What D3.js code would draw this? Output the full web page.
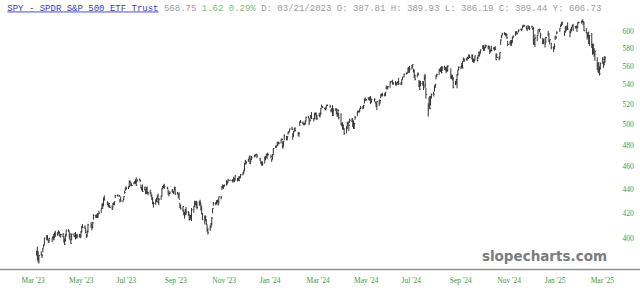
<!DOCTYPE html>
<html><head><meta charset="utf-8">
<script src="https://cdnjs.cloudflare.com/ajax/libs/d3/7.8.5/d3.min.js"></script>
<style>
html,body{margin:0;padding:0;background:#fff;overflow:hidden}
svg{display:block}
</style></head><body>
<svg id="c" width="640" height="297"></svg>
<script>
// ---- categories: trading days, grouped by month ----
const months = ["2023-03","2023-04","2023-05","2023-06","2023-07","2023-08","2023-09","2023-10","2023-11","2023-12",
"2024-01","2024-02","2024-03","2024-04","2024-05","2024-06","2024-07","2024-08","2024-09","2024-10","2024-11","2024-12",
"2025-01","2025-02","2025-03"];
const monthDays = [
[21,22,23,24,27,28,29,30,31],
[3,4,5,6,10,11,12,13,14,17,18,19,20,21,24,25,26,27,28],
[1,2,3,4,5,8,9,10,11,12,15,16,17,18,19,22,23,24,25,26,30,31],
[1,2,5,6,7,8,9,12,13,14,15,16,20,21,22,23,26,27,28,29,30],
[3,5,6,7,10,11,12,13,14,17,18,19,20,21,24,25,26,27,28,31],
[1,2,3,4,7,8,9,10,11,14,15,16,17,18,21,22,23,24,25,28,29,30,31],
[1,5,6,7,8,11,12,13,14,15,18,19,20,21,22,25,26,27,28,29],
[2,3,4,5,6,9,10,11,12,13,16,17,18,19,20,23,24,25,26,27,30,31],
[1,2,3,6,7,8,9,10,13,14,15,16,17,20,21,22,24,27,28,29,30],
[1,4,5,6,7,8,11,12,13,14,15,18,19,20,21,22,26,27,28,29],
[2,3,4,5,8,9,10,11,12,16,17,18,19,22,23,24,25,26,29,30,31],
[1,2,5,6,7,8,9,12,13,14,15,16,20,21,22,23,26,27,28,29],
[1,4,5,6,7,8,11,12,13,14,15,18,19,20,21,22,25,26,27,28],
[1,2,3,4,5,8,9,10,11,12,15,16,17,18,19,22,23,24,25,26,29,30],
[1,2,3,6,7,8,9,10,13,14,15,16,17,20,21,22,23,24,28,29,30,31],
[3,4,5,6,7,10,11,12,13,14,17,18,20,21,24,25,26,27,28],
[1,2,3,5,8,9,10,11,12,15,16,17,18,19,22,23,24,25,26,29,30,31],
[1,2,5,6,7,8,9,12,13,14,15,16,19,20,21,22,23,26,27,28,29,30],
[3,4,5,6,9,10,11,12,13,16,17,18,19,20,23,24,25,26,27,30],
[1,2,3,4,7,8,9,10,11,14,15,16,17,18,21,22,23,24,25,28,29,30,31],
[1,4,5,6,7,8,11,12,13,14,15,18,19,20,21,22,25,26,27,29],
[2,3,4,5,6,9,10,11,12,13,16,17,18,19,20,23,24,26,27,30,31],
[2,3,6,7,8,10,13,14,15,16,17,21,22,23,24,27,28,29,30,31],
[3,4,5,6,7,10,11,12,13,14,18,19,20,21,24,25,26,27,28],
[3,4,5,6,7,10,11,12,13,14,17,18,19,20]
];

// ---- series values (price, adjusted) ----
const high = [
389.9,393.0,389.8,386.6,389.5,387.1,392.0,394.8,400.0,
402,402,398.5,399.6,400,401.5,403,404,405.5,404.2,406,404.8,403.5,402.8,403.5,401.5,399.5,402.8,406.2,
406.7,405,403.7,398.3,403.2,403.3,402,404.4,402.2,403,403,402.7,405.3,409.1,410.7,409.7,407.7,402.8,405.8,411,412.4,409.5,
412.6,418.9,418.5,418.6,419.8,419.3,421.7,423.6,427.5,428.3,432.8,434.6,429.6,428.3,427.9,426.4,425.9,428.1,428.7,429.5,435.0,
435.2,435.0,431.3,433.7,431.0,433.7,438.6,441.4,442.4,442.4,447.3,447.5,446.0,445.0,445.9,447.0,448.6,450.2,448.2,449.0,
448.2,443.9,441.6,443.9,442.0,440.0,441.6,442.3,437.8,439.1,437.3,435.3,433.0,429.2,431.1,432.4,434.4,436.1,432.2,434.4,440.6,442.7,443.7,
444.6,442.1,439.5,436.7,438.1,439.5,439.0,438.4,442.1,441.8,437.6,436.0,437.3,428.3,426.9,425.2,422.7,420.6,423.2,424.8,
421.5,419.4,418.4,418.4,424.0,425.8,430.0,429.4,430.1,429.3,429.9,430.9,428.0,425.7,419.5,417.8,417.8,414.9,410.4,407.8,409.8,411.6,
416.5,423.8,429.1,428.7,430.4,430.6,431.2,433.6,434.0,442.7,444.0,443.2,444.0,447.5,446.8,448.9,448.0,448.0,448.8,450.7,449.3,
452.0,449.7,450.0,451.4,451.2,453.1,454.6,456.5,463.0,465.9,464.8,466.9,469.0,470.0,467.0,469.5,470.6,470.7,471.6,471.0,
467.8,465.3,464.5,464.5,468.9,469.0,471.4,472.1,472.6,470.6,466.9,471.1,476.7,479.1,479.0,482.7,482.2,483.0,485.1,485.9,483.0,
483.3,489.9,488.2,488.1,492.3,492.5,495.3,497.2,490.9,493.1,495.9,496.6,492.2,491.2,502.4,503.7,502.4,500.9,500.6,503.3,
506.9,507.8,505.3,505.7,508.6,511.7,505.6,510.9,510.9,511.4,508.7,510.6,511.1,515.7,519.1,517.6,516.0,516.4,518.2,519.6,
519.0,514.1,515.5,518.6,515.5,515.3,515.3,511.3,514.6,510.9,510.4,501.3,501.4,499.3,495.7,497.6,501.7,502.6,499.2,505.1,505.3,504.8,
503.4,501.1,507.7,512.0,513.7,512.9,515.3,517.6,517.7,518.8,525.1,526.5,524.5,526.6,526.4,527.3,528.0,525.3,525.5,522.3,522.0,522.5,
524.3,524.1,529.7,530.3,531.5,530.7,531.9,538.9,537.8,538.2,543.3,543.8,545.1,542.4,543.5,541.8,542.8,543.5,546.8,
542.5,545.7,548.3,551.6,552.8,553.7,558.2,558.8,560.1,561.2,561.6,557.0,556.0,550.6,551.5,553.2,544.7,544.1,543.8,543.6,543.6,550.0,
551.4,536.1,520.3,526.5,528.0,528.0,530.6,532.3,538.9,540.6,550.0,551.5,556.3,557.3,558.6,559.6,559.6,560.3,558.6,558.1,560.1,560.6,
557.3,550.7,550.3,548.1,543.6,545.7,551.3,555.9,559.5,559.6,563.1,565.1,569.3,568.5,568.6,569.6,570.1,572.9,572.4,572.6,
572.3,568.1,568.0,571.6,570.1,572.0,575.9,575.8,578.4,583.1,583.0,580.9,583.9,583.5,582.6,582.9,580.8,578.2,582.6,580.8,581.0,582.1,573.8,
573.8,570.7,575.2,590.0,594.8,597.7,598.3,597.4,597.3,595.9,588.3,587.6,589.1,588.9,593.2,594.3,599.0,599.4,599.0,601.5,
602.4,602.3,605.8,606.9,607.1,605.9,603.9,606.5,605.3,605.3,605.9,603.3,604.5,591.1,595.8,595.0,601.4,602.5,597.8,591.7,590.6,
591.0,592.6,599.7,597.4,590.0,586.0,581.8,585.4,593.9,594.4,599.4,603.3,607.4,609.9,610.8,599.7,605.4,604.1,606.0,609.9,
600.3,602.3,604.4,606.4,608.1,605.5,605.9,604.5,609.9,610.8,611.6,613.2,611.5,610.3,603.0,597.9,598.0,599.0,594.7,
597.3,584.9,584.9,580.0,577.4,569.7,564.0,564.0,558.9,563.8,569.7,564.7,570.9,570.6
];
const low = [
386.2,382.8,381.1,380.2,386.2,384.4,388.7,392.3,394.5,
398,398,396,396,396.5,399.5,398,399.5,400.5,401.5,403,401.5,400.5,400,400.5,396.3,394.5,397,401,
404.5,399.2,398,395.2,398,401,400.3,398.6,399.5,399.4,400.3,399.9,400.3,403.9,407.5,407.1,403.6,399.8,400.8,404.1,407.9,405.8,
407.3,414.3,415.6,415.8,415.6,416,418.9,419.9,423.6,423.1,425.6,430.2,426.3,424.8,424.3,423.9,422.6,423.4,426.5,426.3,432.2,
433.7,433.1,428.4,429.5,428.8,430.7,436.0,438.5,439.5,440.0,441.6,445.4,442.4,442.4,444.1,445.3,444.3,442.6,445.8,447.5,
445.9,440.4,438.8,437.4,438.6,435.5,435.9,435.7,434.6,435.5,433.5,430.7,427.1,424.3,426.6,428.8,431.1,428.1,426.3,430.8,433.7,439.9,441.0,
440.3,439.8,435.0,433.7,435.7,437.6,436.7,435.9,438.6,434.9,435.3,432.4,431.2,424.1,422.8,420.8,418.0,415.3,417.9,418.5,
417.5,413.7,413.9,414.5,413.3,420.0,425.4,426.4,424.1,422.8,426.1,425.5,422.0,418.7,414.2,410.6,413.8,410.1,404.8,402.5,405.4,407.4,
409.5,419.6,425.9,426.3,426.9,428.1,426.3,427.4,431.2,439.1,440.8,440.0,441.9,443.0,443.9,446.4,447.2,446.5,445.6,446.7,445.8,
447.3,446.7,446.7,447.2,448.7,449.7,451.9,453.0,455.4,461.6,461.6,464.0,466.6,462.0,463.0,465.8,468.0,469.0,470.3,467.4,
464.6,462.4,460.6,460.6,462.5,465.5,468.0,466.4,469.3,467.2,464.0,466.5,470.5,476.8,476.9,478.8,479.3,480.4,481.1,483.9,476.7,
477.8,484.1,484.1,484.1,489.3,491.0,492.3,493.9,484.6,487.6,492.6,492.6,488.3,487.3,497.7,500.8,499.5,498.6,498.6,499.1,
502.2,505.4,498.6,502.1,505.4,504.7,502.2,504.5,508.4,504.2,503.8,507.0,506.2,508.7,516.4,515.5,514.3,513.5,514.6,517.8,
515.9,511.2,512.1,507.6,507.9,513.0,509.5,506.7,507.9,504.3,498.8,497.4,494.4,493.9,489.2,490.7,495.1,498.3,492.8,500.9,501.6,497.0,
495.1,494.9,503.8,507.6,511.5,510.4,511.8,514.5,514.5,515.0,520.2,523.6,522.6,523.7,524.3,522.6,519.7,521.5,522.1,520.4,516.6,513.5,
517.7,519.6,525.6,527.6,527.4,527.6,527.8,535.2,534.5,535.1,536.5,542.0,540.0,539.6,539.2,539.0,539.6,541.5,539.5,
539.1,539.6,545.2,547.6,550.7,552.0,553.3,552.3,553.6,556.1,558.6,553.1,546.9,544.4,547.7,549.8,537.4,534.1,538.1,538.6,534.1,544.2,
536.0,525.3,507.1,514.8,514.8,518.3,525.3,527.5,532.6,536.3,545.4,548.1,550.4,553.8,553.4,551.9,554.4,555.6,554.8,552.0,553.7,553.8,
546.0,546.0,544.4,536.0,539.2,540.0,536.0,549.2,555.5,556.4,557.3,557.3,564.5,564.3,566.2,565.7,567.6,568.1,568.6,567.1,
564.2,563.5,563.7,566.3,564.8,567.7,570.8,570.4,574.1,578.7,576.6,577.0,579.6,580.7,578.5,578.7,573.1,574.9,576.1,578.6,576.7,578.1,566.6,
568.8,566.1,568.2,583.5,591.1,594.3,595.1,593.3,594.3,590.8,582.1,583.4,582.6,582.7,585.6,591.3,594.0,596.2,595.5,598.1,
600.4,599.3,602.7,604.3,605.0,601.5,599.8,604.1,602.2,600.6,603.3,601.0,584.0,584.0,580.9,587.8,595.5,598.1,590.8,584.4,584.4,
580.5,586.0,593.6,586.8,583.9,578.6,575.4,578.4,589.2,591.1,595.8,598.6,604.4,605.2,606.8,594.0,597.5,599.2,601.8,600.7,
592.2,597.3,599.2,603.9,600.1,602.7,602.5,598.5,603.2,608.5,608.4,609.6,606.4,599.5,597.0,589.6,591.3,584.8,582.4,
579.9,572.3,573.1,570.1,565.6,555.6,553.0,552.0,549.7,556.0,562.4,558.0,561.0,563.6
];
const close = [
389.4,382.8,383.9,386.4,387.1,386.2,391.9,394.1,399.7,
401.2,399.0,397.9,399.5,399.9,400.0,398.4,403.7,402.7,404.1,404.4,404.3,402.1,402.4,402.8,396.5,394.8,402.6,406.1,
405.7,401.1,398.4,395.5,402.8,403.1,400.9,402.7,401.8,401.3,402.5,400.0,405.0,408.7,408.2,408.3,403.9,401.2,404.8,410.1,410.2,408.0,
411.8,417.8,417.0,417.9,416.4,419.0,419.7,423.5,426.3,426.8,432.1,430.7,428.4,426.2,427.8,424.5,422.8,427.4,427.7,429.3,434.4,
434.9,434.3,430.9,429.8,430.9,433.6,437.1,440.6,440.3,441.8,446.1,446.1,443.1,443.1,445.1,446.3,446.4,443.4,447.8,448.6,
447.4,441.1,439.9,437.9,441.7,439.8,436.8,437.0,436.7,439.1,434.0,430.8,427.6,427.8,430.5,429.4,434.2,428.2,431.2,433.9,440.2,442.0,441.3,
442.2,440.3,437.3,436.0,436.6,439.5,437.1,437.6,441.4,436.1,436.3,435.4,431.4,424.3,423.3,425.1,418.9,419.0,421.4,420.4,
420.3,414.6,417.7,417.5,422.5,425.2,427.4,429.1,426.5,424.4,428.9,428.8,423.1,419.4,414.2,413.5,416.6,410.7,405.7,403.9,408.7,411.3,
415.7,423.6,427.5,428.5,429.7,430.0,426.7,433.3,432.9,441.3,442.3,442.8,443.3,446.8,445.8,447.5,447.8,447.0,447.4,447.1,448.9,
451.5,449.2,449.1,447.3,450.7,452.6,454.4,456.4,462.7,464.2,463.5,466.1,468.9,462.4,466.8,467.7,469.7,470.6,470.7,469.4,
466.7,462.9,461.4,462.1,468.7,468.0,470.6,470.4,470.7,469.0,466.4,470.5,476.4,477.4,478.8,479.3,481.9,481.3,485.1,484.8,476.8,
483.1,488.2,486.4,487.8,491.9,492.1,494.9,494.7,487.9,492.3,495.7,493.3,490.6,491.0,501.2,501.5,499.7,500.6,499.9,501.7,
506.4,505.9,500.8,503.4,508.4,505.3,504.9,510.3,509.5,508.5,505.0,508.0,510.8,515.5,517.2,516.3,514.8,513.9,518.2,518.1,
517.2,513.9,514.5,508.2,513.5,513.8,514.4,509.2,513.1,506.0,499.7,498.7,495.8,494.8,490.5,495.0,500.8,500.6,498.7,503.4,505.2,497.2,
495.6,500.2,506.4,511.9,512.2,512.3,515.2,515.9,516.0,518.3,524.8,523.7,524.4,525.0,526.3,524.8,521.0,524.4,524.8,521.1,517.6,522.4,
522.8,523.4,529.6,529.6,528.9,530.6,531.8,536.2,537.3,537.6,541.9,543.3,541.8,541.1,539.3,541.4,542.1,542.9,540.8,
541.9,545.6,548.0,551.1,551.8,552.3,557.8,553.0,556.5,558.0,561.3,553.4,549.2,545.5,551.2,550.3,537.8,535.0,541.0,541.3,538.6,547.3,
539.6,529.5,514.1,518.9,515.4,527.3,529.6,529.9,538.6,540.3,549.6,550.8,556.1,555.2,557.1,552.7,558.6,557.3,558.0,554.8,554.8,560.1,
548.6,547.5,546.1,537.0,543.0,545.3,550.9,555.6,558.5,559.3,559.5,557.9,567.4,566.4,567.8,569.5,568.2,570.5,569.6,571.9,
566.8,567.0,566.0,571.1,566.0,571.3,575.3,573.9,577.7,582.4,577.9,580.4,580.5,582.7,581.8,581.4,576.1,577.4,577.2,579.0,579.9,578.1,566.8,
569.2,568.0,574.9,589.1,593.7,596.3,596.8,595.0,595.3,591.5,583.9,586.3,588.4,588.6,591.8,593.6,595.6,598.7,596.9,600.6,
601.7,602.0,605.7,604.7,605.9,602.7,600.9,605.5,602.4,602.3,604.9,602.4,584.4,584.2,591.2,594.7,601.3,601.3,595.0,588.2,586.1,
584.6,592.0,595.4,588.6,589.5,580.5,581.4,582.2,592.8,591.6,597.6,603.1,606.4,609.8,608.0,599.4,604.5,601.8,605.0,601.8,
597.8,601.8,604.2,606.3,600.8,604.9,605.3,603.4,609.7,609.7,611.5,612.9,610.4,599.9,597.2,594.2,594.5,585.1,594.2,
583.8,576.9,583.1,572.7,575.9,560.6,555.9,558.9,551.4,562.8,567.2,561.0,567.1,568.8
];

// ---- tick labels ----
const yTicks = [400,420,440,460,480,500,520,540,560,580,600];
const xTickDates = ["2023-03-01","2023-05-01","2023-07-01","2023-09-01","2023-11-01","2024-01-01",
"2024-03-01","2024-05-01","2024-07-01","2024-09-01","2024-11-01","2025-01-01","2025-03-01"];
const xTickLabels = ["Mar '23","May '23","Jul '23","Sep '23","Nov '23","Jan '24","Mar '24","May '24","Jul '24","Sep '24","Nov '24","Jan '25","Mar '25"];
const titleParts = [
  {t:"SPY - SPDR S&P 500 ETF Trust", c:"#3b3bc4", u:true},
  {t:" 568.75", c:"#9a9a9a"},
  {t:" 1.62 0.29%", c:"#78c078"},
  {t:" D: 03/21/2023 O: 387.81 H: 389.93 L: 386.19 C: 389.44 Y: 606.73", c:"#9a9a9a"}
];
const watermark = "slopecharts.com";

// ---- build ----
const parse = d3.timeParse("%Y-%m-%d");
const dates = [];
months.forEach((m,i)=>monthDays[i].forEach(d=>dates.push(parse(m+"-"+String(d).padStart(2,"0")))));
if (dates.length!==high.length || dates.length!==low.length || dates.length!==close.length)
  throw new Error("length mismatch "+dates.length+" "+high.length+" "+low.length+" "+close.length);
const bars = dates.map((d,i)=>({d, h:high[i], l:low[i], c:close[i]}));

const svg = d3.select("#c");
const x = d3.scaleTime().domain([parse("2023-03-01"), parse("2025-03-20")]).range([21, 605]);
const y = d3.scaleLog().domain([400, 600]).range([237.7, 30.7]);

// title
const tt = svg.append("text").attr("x",7.3).attr("y",10.5)
  .attr("font-family","'Liberation Mono', 'DejaVu Sans Mono', monospace").attr("font-size","9px")
  .attr("xml:space","preserve");
titleParts.forEach(p=>{
  const s = tt.append("tspan").attr("fill",p.c).text(p.t);
  if (p.u) s.attr("text-decoration","underline");
});

// watermark
svg.append("text").attr("x",607).attr("y",261).attr("text-anchor","end")
  .attr("font-family","'DejaVu Sans', sans-serif").attr("font-weight","bold").attr("font-size","13.5px")
  .attr("fill","#7b7b7b").text(watermark);

// bottom baseline
svg.append("line").attr("x1",0).attr("x2",640).attr("y1",269.5).attr("y2",269.5)
  .attr("stroke","#8f8f8f").attr("stroke-width",1.5);

// x axis labels
const xa = d3.axisBottom(x).tickValues(xTickDates.map(parse)).tickSize(0)
  .tickFormat((d,i)=>xTickLabels[i]);
const gx = svg.append("g").attr("transform","translate(0,277)").call(xa);
gx.select(".domain").remove();
gx.selectAll("text").attr("text-anchor","start").attr("fill","#3d9a3d")
  .attr("font-family","'Liberation Serif', serif").attr("font-size","7.5px").attr("dy","0.71em").attr("y",1);

// y axis labels
const ya = d3.axisRight(y).tickValues(yTicks).tickSize(0).tickFormat(d3.format("d"));
const gy = svg.append("g").attr("transform","translate(628,0)").call(ya);
gy.select(".domain").remove();
gy.selectAll("text").attr("x",0).attr("text-anchor","middle").attr("fill","#3d9a3d")
  .attr("font-family","'Liberation Serif', serif").attr("font-size","7.5px");

// OHLC bars
const gb = svg.append("g").attr("stroke","#333").attr("stroke-width",1);
gb.selectAll("line.hl").data(bars).join("line").attr("class","hl")
  .attr("x1",b=>x(b.d)).attr("x2",b=>x(b.d))
  .attr("y1",b=>y(b.h)).attr("y2",b=>y(b.l));
gb.selectAll("line.cl").data(bars).join("line").attr("class","cl")
  .attr("x1",b=>x(b.d)).attr("x2",b=>x(b.d)+1)
  .attr("y1",b=>y(b.c)).attr("y2",b=>y(b.c));
</script>
</body></html>
